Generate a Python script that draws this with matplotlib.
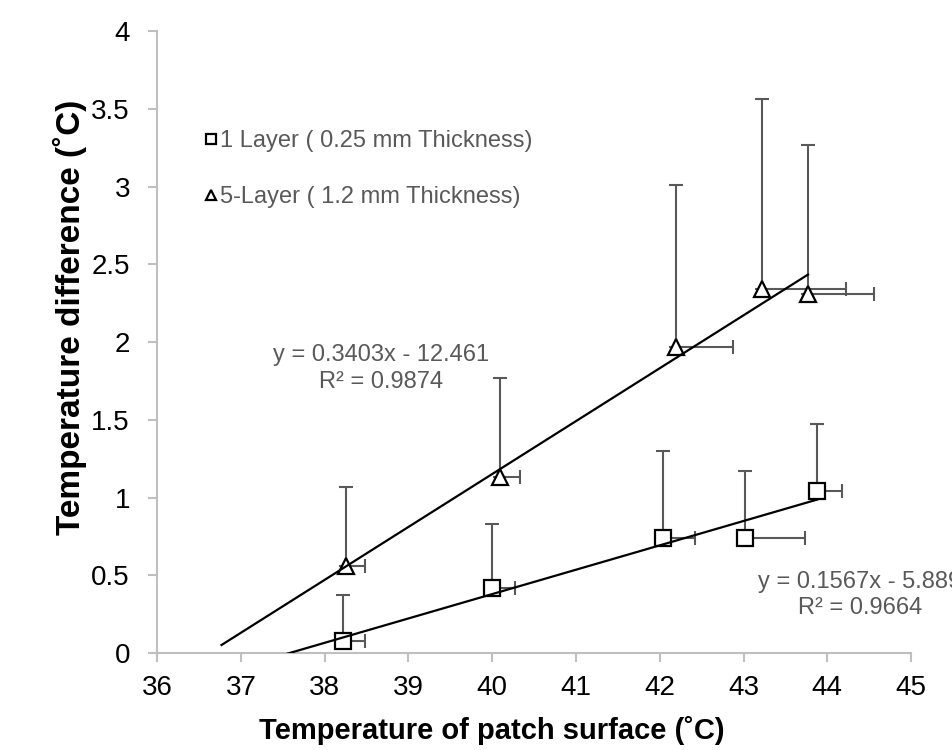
import numpy as np
import matplotlib
matplotlib.use("Agg")
import matplotlib.pyplot as plt

plt.rcParams["font.family"] = ["Liberation Sans", "DejaVu Sans"]

# 1 couche (0.25 mm)
x1 = [38.22, 40.00, 42.04, 43.02, 43.88]
y1 = [0.08, 0.42, 0.74, 0.74, 1.04]
y1_up = [0.29, 0.41, 0.56, 0.43, 0.43]
x1_right = [0.26, 0.27, 0.38, 0.71, 0.29]

# 5 couches (1.2 mm)
x5 = [38.26, 40.09, 42.20, 43.22, 43.77]
y5 = [0.56, 1.13, 1.97, 2.34, 2.31]
y5_up = [0.51, 0.64, 1.04, 1.22, 0.96]
x5_right = [0.22, 0.24, 0.67, 1.00, 0.79]

# droites de tendance (coefficients affiches + etendue)
fit1 = (0.1567, -5.889, 0.9664)
fit5 = (0.3403, -12.461, 0.9874)
fit1_x = [37.55, 43.88]
fit5_x = [36.77, 43.77]

GRAY = "#595959"
AXC = "#bfbfbf"

fig = plt.figure(figsize=(9.52, 7.5), dpi=100)
ax = fig.add_axes([0.165, 0.1293, 0.792, 0.8293])

for x, y, up, right, mk, lab in [
    (x1, y1, y1_up, x1_right, "s", "1 Layer ( 0.25 mm Thickness)"),
    (x5, y5, y5_up, x5_right, "^", "5-Layer ( 1.2 mm Thickness)"),
]:
    z = np.zeros(len(x))
    ax.errorbar(x, y, yerr=[z, up], xerr=[z, right], fmt="none",
                ecolor=GRAY, elinewidth=1.5, capsize=5, capthick=1.5, zorder=2)
    ax.plot(x, y, mk, ms=12, mfc="white", mec="black", mew=1.6,
            ls="none", zorder=3, label=lab)

for (a, b, r2), xs in [(fit1, fit1_x), (fit5, fit5_x)]:
    xs = np.array(xs)
    ax.plot(xs, a * xs + b, color="black", lw=1.6, zorder=4)

ax.text(38.67, 1.83, f"y = {fit5[0]:.4f}x - {-fit5[1]:.3f}\nR² = {fit5[2]:.4f}",
        ha="center", va="center", fontsize=17, color=GRAY, linespacing=1.25)
# le texte depasse le bord droit, comme dans l'original
ax.text(44.39, 0.375, f"y = {fit1[0]:.4f}x - {-fit1[1]:.3f}\nR² = {fit1[2]:.4f}",
        ha="center", va="center", fontsize=17, color=GRAY, linespacing=1.25,
        clip_on=False)

ax.set_xlim(36, 45)
ax.set_ylim(0, 4)
ax.set_xticks(range(36, 46))
ax.set_yticks(np.arange(0, 4.01, 0.5))
ax.set_yticklabels(["0", "0.5", "1", "1.5", "2", "2.5", "3", "3.5", "4"])
for s in ["top", "right"]:
    ax.spines[s].set_visible(False)
for s in ["left", "bottom"]:
    ax.spines[s].set_color(AXC)
    ax.spines[s].set_linewidth(1.5)
ax.tick_params(axis="both", colors=AXC, labelcolor="black", labelsize=20,
               length=6.5, width=1.5, direction="out")
ax.tick_params(axis="x", pad=9)
ax.tick_params(axis="y", pad=13)

ax.set_ylabel("Temperature difference (˚C)", fontsize=24, fontweight="bold")
ax.yaxis.set_label_coords(-0.116, 0.539)
ax.set_xlabel("Temperature of patch surface (˚C)", fontsize=21,
              fontweight="bold")
ax.xaxis.set_label_coords(0.444, -0.124)
ax.xaxis.label.set_va("center")
ax.yaxis.label.set_va("center")

leg = ax.legend(loc="upper left", bbox_to_anchor=(0.035, 0.875), frameon=False,
                fontsize=17, markerscale=0.65, handlelength=0.5,
                handletextpad=0.15, labelspacing=1.45)
for t in leg.get_texts():
    t.set_color(GRAY)

fig.savefig("out.png", dpi=100)
